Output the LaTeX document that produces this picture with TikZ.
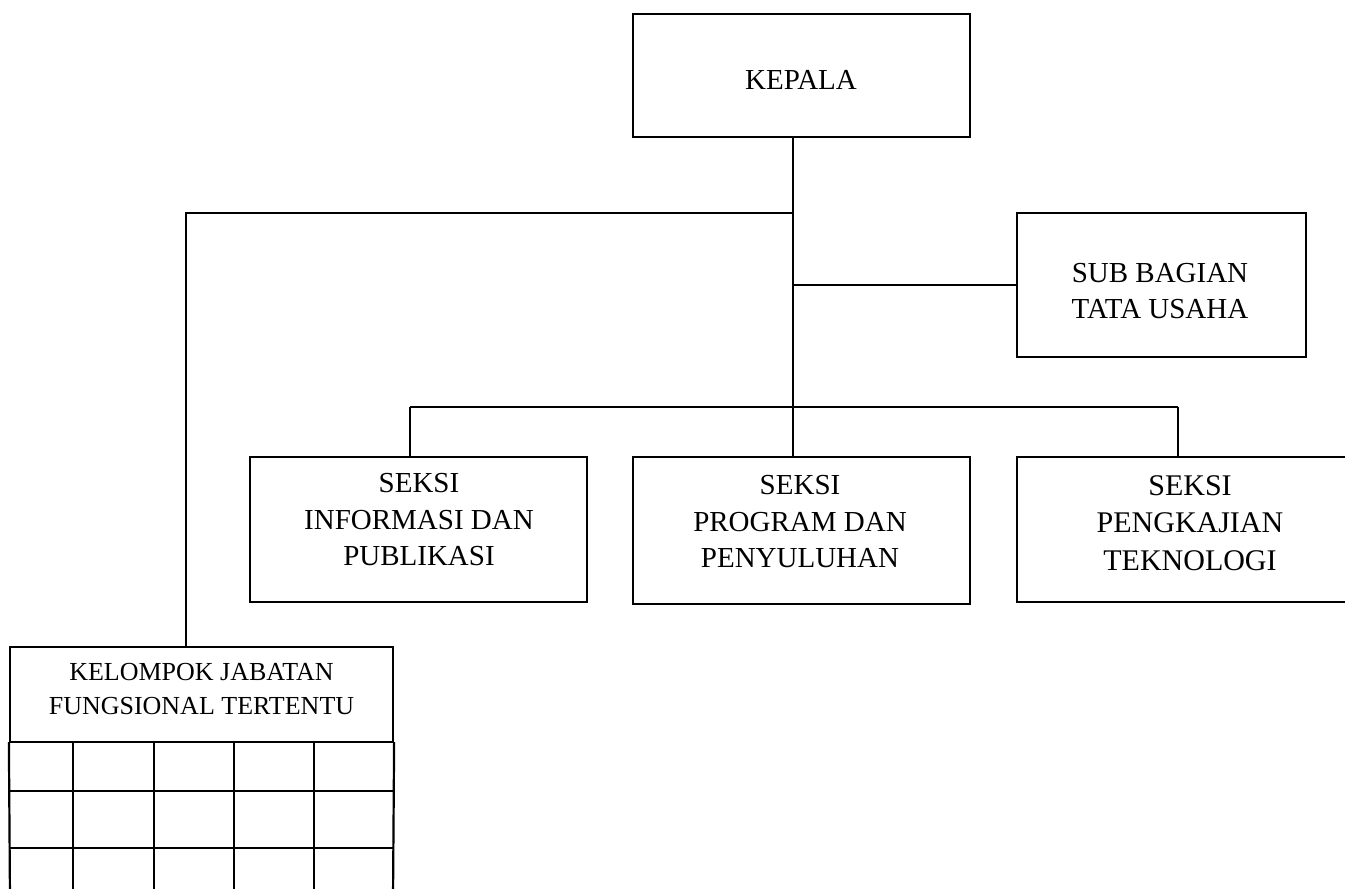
\documentclass[tikz,border=0pt]{standalone}
\usepackage{fontspec}
\setmainfont{Liberation Serif}
\begin{document}
\begin{tikzpicture}[x=1pt,y=-1pt,
  box/.style={draw, rectangle, inner sep=0pt, line width=2.2pt},
  lbl/.style={align=center, font=\fontsize{29}{36.5}\selectfont, inner sep=0pt},
  smalllbl/.style={align=center, font=\fontsize{26}{34}\selectfont, inner sep=0pt},
  wire/.style={line width=2.2pt},
  gridline/.style={line width=2.2pt, line cap=rect}]
\useasboundingbox (0,0) rectangle (1345,889);
\clip (0,0) rectangle (1345,889);
% boxes
\node[box, minimum width=337pt, minimum height=123pt] (kepala) at (801.5,75.5) {};
\node[box, minimum width=289pt, minimum height=144pt] (sub) at (1161.5,285) {};
\node[box, minimum width=337pt, minimum height=145pt] (s1) at (418.5,529.5) {};
\node[box, minimum width=337pt, minimum height=147pt] (s2) at (801.5,530.5) {};
\node[box, minimum width=340pt, minimum height=145pt] (s3) at (1187,529.5) {};
\node[box, minimum width=383pt, minimum height=95pt] (kjf) at (201.5,694.5) {};
% texts
\node[lbl] (tkepala) at (801,79.5) {KEPALA};
\node[lbl] (tsub) at (1160,291) {SUB BAGIAN\\TATA USAHA};
\node[lbl] (ts1) at (419,520) {SEKSI\\INFORMASI DAN\\PUBLIKASI};
\node[lbl] (ts2) at (800,522) {SEKSI\\PROGRAM DAN\\PENYULUHAN};
\node[lbl, font=\fontsize{30}{37.5}\selectfont] (ts3) at (1190,523) {SEKSI\\PENGKAJIAN\\TEKNOLOGI};
\node[smalllbl] (tkjf) at (201.5,689) {KELOMPOK JABATAN\\FUNGSIONAL TERTENTU};
% connector points
\coordinate (top) at (793,137);
\coordinate (lefttop) at (793,213);
\coordinate (leftcorner) at (186,213);
\coordinate (subj) at (793,285);
\coordinate (busl) at (410,407);
\coordinate (busr) at (1178,407);
% connectors
\draw[wire] (top) -- (s2.north -| top);
\draw[wire] (lefttop) -- (leftcorner) -- (kjf.north -| leftcorner);
\draw[wire] (subj) -- (sub.west);
\draw[wire] (busl) -- (busr);
\draw[wire] (busl) -- (s1.north -| busl);
\draw[wire] (busr) -- (s3.north -| busr);
% grid below the functional group header
\draw[gridline] (kjf.south west) -- (10,900);
\draw[gridline] (kjf.south east) -- (393,900);
\foreach \xx in {73,154,234,314}
  \draw[gridline] (\xx,742) -- (\xx,900);
\foreach \yy in {791,848}
  \draw[gridline] (10,\yy) -- (393,\yy);
\end{tikzpicture}
\end{document}
